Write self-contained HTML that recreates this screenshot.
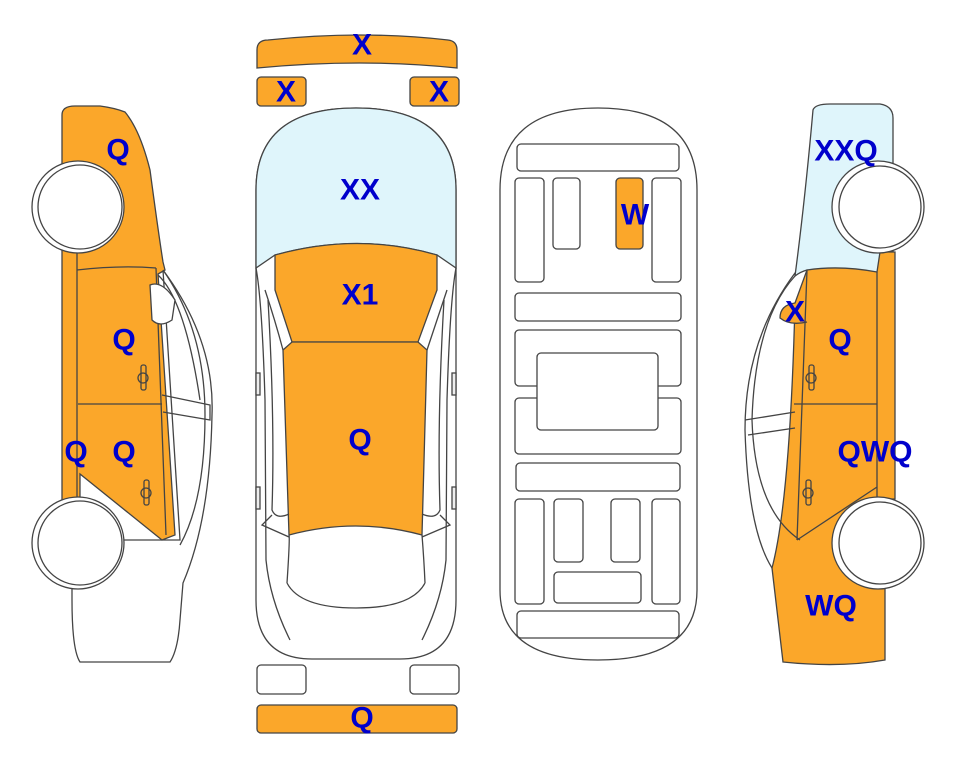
<!DOCTYPE html>
<html><head><meta charset="utf-8"><style>
html,body{margin:0;padding:0;background:#fff;}
svg{display:block;}
text{font-family:"Liberation Sans",Arial,sans-serif;font-weight:bold;font-size:30px;fill:#0000cc;text-anchor:middle;dominant-baseline:central;}
</style></head><body>
<svg width="963" height="768" viewBox="0 0 963 768" xmlns="http://www.w3.org/2000/svg">
<g stroke="#444" stroke-width="1.3" fill="none">
<path d="M257 68 L257 50 Q257 40 268 40 Q362 30 448 40 Q457 41 457 50 L457 68 Q362 58 257 68Z" fill="#fba72a"/>
<rect x="257" y="77" width="49" height="29" rx="4" fill="#fba72a"/>
<rect x="410" y="77" width="49" height="29" rx="4" fill="#fba72a"/>
<rect x="257" y="665" width="49" height="29" rx="4" fill="#fff"/>
<rect x="410" y="665" width="49" height="29" rx="4" fill="#fff"/>
<rect x="257" y="705" width="200" height="28" rx="4" fill="#fba72a"/>

<path d="M256 265 L256 190 Q256 108 356 108 Q456 108 456 190 L456 265 L456 600 Q456 659 400 659 L312 659 Q256 659 256 600 Z" fill="#fff"/>
<path d="M256 268 L256 190 Q256 108 356 108 Q456 108 456 190 L456 268 L437 255 Q358 232 275 255 Z" fill="#dff5fb"/>
<path d="M275 255 Q358 232 437 255 L437 290 L418 342 L292 342 L275 290 Z" fill="#fba72a"/>
<path d="M283 350 L292 342 L418 342 L427 350 L422 535 Q356 517 289 535 Z" fill="#fba72a"/>
<path d="M287 583 Q290 538 289 535 M422 535 Q424 560 425 583 M287 583 Q300 608 356 608 Q412 608 425 583"/>
<path d="M256 268 Q262 300 265 400 L266 560 Q270 600 290 640 M456 268 Q450 300 447 400 L446 560 Q442 600 422 640"/>
<path d="M265 290 Q275 320 283 350 M447 290 Q437 320 427 350"/>
<path d="M268 300 Q275 420 272 510 Q276 520 289 514 M444 300 Q437 420 440 510 Q436 520 422 514"/>
<path d="M272 515 L262 525 L289 537 M440 515 L450 525 L422 537"/>
<rect x="256" y="373" width="4" height="22" fill="#eee"/>
<rect x="452" y="373" width="4" height="22" fill="#eee"/>
<rect x="256" y="487" width="4" height="22" fill="#eee"/>
<rect x="452" y="487" width="4" height="22" fill="#eee"/>

<path d="M500 190 Q500 108 598 108 Q697 108 697 190 L697 590 Q697 660 598 660 Q500 660 500 590 Z" fill="#fff"/>
<rect x="517" y="144" width="162" height="27" rx="4"/>
<rect x="515" y="178" width="29" height="104" rx="4"/>
<rect x="553" y="178" width="27" height="71" rx="4"/>
<rect x="616" y="178" width="27" height="71" rx="4" fill="#fba72a"/>
<rect x="652" y="178" width="29" height="104" rx="4"/>
<rect x="515" y="293" width="166" height="28" rx="4"/>
<rect x="515" y="330" width="166" height="56" rx="4"/>
<rect x="515" y="398" width="166" height="56" rx="4"/>
<rect x="537" y="353" width="121" height="77" rx="4" fill="#fff"/>
<rect x="516" y="463" width="164" height="28" rx="4"/>
<rect x="515" y="499" width="29" height="105" rx="4"/>
<rect x="554" y="499" width="29" height="63" rx="4"/>
<rect x="611" y="499" width="29" height="63" rx="4"/>
<rect x="652" y="499" width="28" height="105" rx="4"/>
<rect x="554" y="572" width="87" height="31" rx="4"/>
<rect x="517" y="611" width="162" height="27" rx="4"/>

<path d="M163 270 Q215 340 212 415 Q210 520 183 583 L180 620 Q178 650 170 662 L80 662 Q72 650 72 600 L72 540 L180 540 Z" fill="#fff"/>
<path d="M62 115 Q62 106 75 106 L100 106 Q115 108 125 112 Q140 130 150 170 Q158 230 163 262 L165 270 L158 274 L175 535 L162 540 L80 474 L80 500 L62 500 Z" fill="#fba72a"/>
<path d="M163 270 Q205 330 205 415 Q205 500 180 545"/>
<path d="M158 275 Q185 300 200 400 M162 395 L210 405 L210 420 L163 412"/>
<path d="M77 252 L77 500 M77 270 Q120 265 156 268 M78 404 L162 404 M156 268 L166 535"/>
<path d="M150 285 Q162 280 175 300 L172 320 Q160 328 152 320 Z" fill="#fff"/>
<rect x="141" y="365" width="5" height="25" rx="2"/><circle cx="143" cy="378" r="5"/>
<rect x="144" y="480" width="5" height="25" rx="2"/><circle cx="146" cy="493" r="5"/>
<circle cx="78" cy="207" r="46" fill="#fff"/>
<circle cx="80" cy="207" r="42" fill="#fff"/>
<circle cx="78" cy="543" r="46" fill="#fff"/>
<circle cx="80" cy="543" r="42" fill="#fff"/>

<path d="M795 273 Q745 340 745 430 Q748 530 772 568 L800 540 L807 270 Z" fill="#fff"/>
<path d="M813 110 Q815 104 830 104 L880 104 Q893 106 893 118 L893 275 L807 270 Q800 272 795 276 Q805 200 813 110Z" fill="#dff5fb"/>
<path d="M807 270 Q840 265 877 272 L880 252 L895 252 L895 499 L885 499 L885 660 Q840 668 783 662 Q778 620 772 568 Q790 500 795 303 L807 270 Z" fill="#fba72a"/>
<path d="M795 303 Q780 305 780 318 Q790 326 807 322" fill="#fba72a"/>
<path d="M795 276 Q755 320 752 420 Q755 510 800 540 M745 420 L795 412 M748 435 L795 428"/>
<path d="M807 270 L797 540 M794 404 L877 404 M877 272 L877 500 M797 540 L877 487"/>
<rect x="809" y="365" width="5" height="25" rx="2"/><circle cx="811" cy="378" r="5"/>
<rect x="806" y="480" width="5" height="25" rx="2"/><circle cx="808" cy="493" r="5"/>
<circle cx="878" cy="207" r="46" fill="#fff"/>
<circle cx="880" cy="207" r="41" fill="#fff"/>
<circle cx="878" cy="543" r="46" fill="#fff"/>
<circle cx="880" cy="543" r="41" fill="#fff"/>
</g>
<text x="362" y="45">X</text>
<text x="286" y="92">X</text>
<text x="439" y="92">X</text>
<text x="360" y="190">XX</text>
<text x="360" y="295">X1</text>
<text x="360" y="440">Q</text>
<text x="362" y="718">Q</text>
<text x="635" y="215">W</text>
<text x="118" y="150">Q</text>
<text x="124" y="340">Q</text>
<text x="76" y="452">Q</text>
<text x="124" y="452">Q</text>
<text x="846" y="151">XXQ</text>
<text x="795" y="312">X</text>
<text x="840" y="340">Q</text>
<text x="875" y="452">QWQ</text>
<text x="831" y="606">WQ</text>
</svg>
</body></html>
